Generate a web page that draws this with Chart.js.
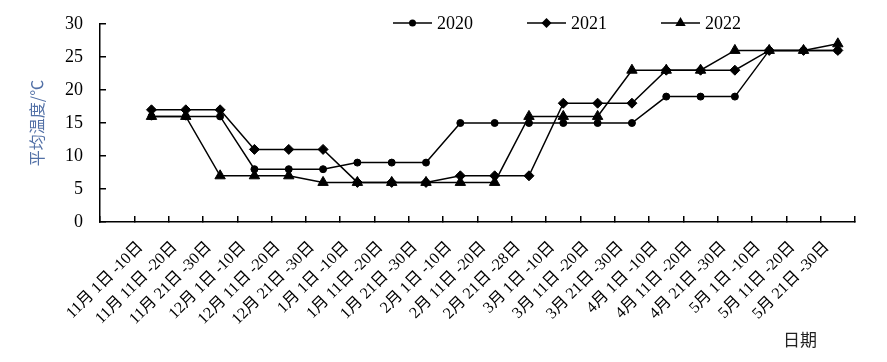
<!DOCTYPE html>
<html>
<head>
<meta charset="utf-8">
<script src="https://cdn.jsdelivr.net/npm/chart.js@4/dist/chart.umd.min.js"></script>
<style>
  html, body { margin: 0; padding: 0; background: #fff; }
  #wrap { position: relative; width: 887px; height: 362px; }
</style>
</head>
<body>
<div id="wrap"><canvas id="chart"></canvas></div>
<script>
// Tiendaagse perioden (eerste slot op de as blijft leeg, zoals in het origineel)
const perioden = ['', '11月 1日 -10日', '11月 11日 -20日', '11月 21日 -30日', '12月 1日 -10日', '12月 11日 -20日', '12月 21日 -30日',
  '1月 1日 -10日', '1月 11日 -20日', '1月 21日 -30日', '2月 1日 -10日', '2月 11日 -20日', '2月 21日 -28日',
  '3月 1日 -10日', '3月 11日 -20日', '3月 21日 -30日', '4月 1日 -10日', '4月 11日 -20日', '4月 21日 -30日',
  '5月 1日 -10日', '5月 11日 -20日', '5月 21日 -30日'];
const jaren = ['2020', '2021', '2022'];
const temp2020 = [null, 16, 16, 16, 8, 8, 8, 9, 9, 9, 15, 15, 15, 15, 15, 15, 19, 19, 19, 26, 26, 26];
const temp2021 = [null, 17, 17, 17, 11, 11, 11, 6, 6, 6, 7, 7, 7, 18, 18, 18, 23, 23, 23, 26, 26, 26];
const temp2022 = [null, 16, 16, 7, 7, 7, 6, 6, 6, 6, 6, 6, 16, 16, 16, 23, 23, 23, 26, 26, 26, 27];
const yTicks = [0, 5, 10, 15, 20, 25, 30];

const SERIF = "'Times New Roman', 'Liberation Serif', 'Noto Sans CJK SC', serif";
const SANS = "'Noto Sans CJK SC', 'Noto Sans', sans-serif";

const stijlen = [
  { pointStyle: 'circle', radius: 3.5, legendRadius: 3.5 },
  { pointStyle: 'rectRot', radius: 5, legendRadius: 5 },
  { pointStyle: 'triangle', radius: 6, legendRadius: 6 }
];

function reeks(label, data, s) {
  return {
    label, data,
    borderColor: '#000', backgroundColor: '#000', borderWidth: 1.5, tension: 0,
    pointStyle: s.pointStyle, pointRadius: s.radius, pointHoverRadius: s.radius,
    pointBackgroundColor: '#000', pointBorderColor: '#000', pointBorderWidth: 1
  };
}

function tekenMarker(ctx, stijl, x, y, r) {
  ctx.beginPath();
  if (stijl === 'circle') {
    ctx.arc(x, y, r, 0, Math.PI * 2);
  } else if (stijl === 'rectRot') {
    ctx.moveTo(x, y - r); ctx.lineTo(x + r, y); ctx.lineTo(x, y + r); ctx.lineTo(x - r, y);
  } else {
    ctx.moveTo(x, y - r); ctx.lineTo(x + r * 0.866, y + r * 0.5); ctx.lineTo(x - r * 0.866, y + r * 0.5);
  }
  ctx.closePath();
  ctx.fill();
}

// Legenda in het plotvlak: lijnstuk + marker + jaartal; plus de x-astitel rechtsonder.
const legendaPlugin = {
  id: 'lijnLegenda',
  afterDraw(c) {
    const ctx = c.ctx;
    const area = c.chartArea;
    const y = area.top - 1;
    ctx.save();
    ctx.fillStyle = '#000'; ctx.strokeStyle = '#000'; ctx.lineWidth = 1.5;
    ctx.font = '18px ' + SERIF; ctx.textBaseline = 'middle'; ctx.textAlign = 'left';
    jaren.forEach((jaar, i) => {
      const x0 = area.left + 293 + i * 134;
      ctx.beginPath(); ctx.moveTo(x0, y); ctx.lineTo(x0 + 39, y); ctx.stroke();
      tekenMarker(ctx, stijlen[i].pointStyle, x0 + 19.5, y, stijlen[i].legendRadius);
      ctx.fillText(jaar, x0 + 44, y + 1);
    });
    ctx.font = '17px ' + SANS; ctx.fillStyle = '#222'; ctx.textAlign = 'left';
    ctx.fillText('日期', area.right - 72, c.height - 22);
    ctx.restore();
  }
};

new Chart(document.getElementById('chart'), {
  type: 'line',
  plugins: [legendaPlugin],
  data: {
    labels: perioden,
    datasets: [
      reeks(jaren[0], temp2020, stijlen[0]),
      reeks(jaren[1], temp2021, stijlen[1]),
      reeks(jaren[2], temp2022, stijlen[2])
    ]
  },
  options: {
    responsive: true, maintainAspectRatio: false, animation: false,
    layout: { padding: { top: 24, right: 32, bottom: 0, left: 0 } },
    plugins: { legend: { display: false }, tooltip: { enabled: false } },
    scales: {
      x: {
        offset: true,
        grid: { display: true, offset: true, drawOnChartArea: false, drawTicks: true, tickLength: -6, color: '#000', lineWidth: 1.5 },
        border: { display: true, color: '#000', width: 1.5 },
        ticks: { autoSkip: false, maxRotation: 45, minRotation: 45, color: '#000', padding: 22, labelOffset: -11, font: { family: SERIF, size: 16 } },
        afterFit(s) { s.height = 140; }
      },
      y: {
        min: 0, max: 30,
        afterBuildTicks(s) { s.ticks = yTicks.map(v => ({ value: v })); },
        grid: { display: true, drawOnChartArea: false, drawTicks: true, tickLength: -6, color: '#000', lineWidth: 1.5 },
        border: { display: true, color: '#000', width: 1.5 },
        ticks: { color: '#000', padding: 23, font: { family: SERIF, size: 18 } },
        title: { display: true, text: '平均温度/℃', color: '#5270a6', padding: { top: 27, bottom: 0 }, font: { family: SANS, size: 16 } },
        // vaste breedte; label-padding niet laten meetellen voor de bovenrand
        afterFit(s) { s.width = 100; s.paddingTop = 11; s.paddingBottom = 11; }
      }
    }
  }
});
</script>
</body>
</html>
